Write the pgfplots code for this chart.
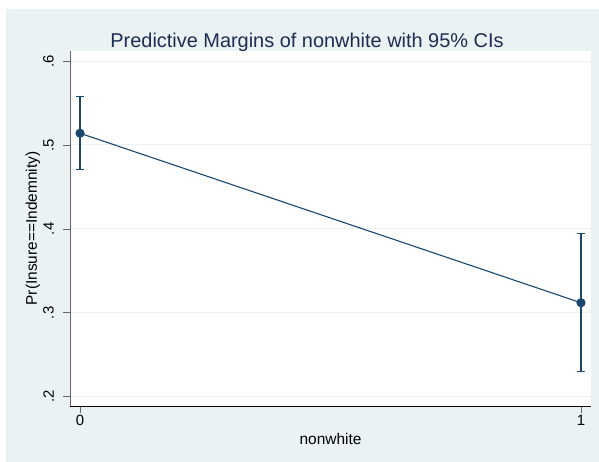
\documentclass[border=0pt]{standalone}
\usepackage{fontspec}
\setmainfont{Liberation Sans}
\usepackage{pgfplots}
\pgfplotsset{compat=1.18}

\definecolor{stbg}{RGB}{234,242,243}
\definecolor{stnavy}{RGB}{26,71,111}
\definecolor{sttitle}{RGB}{30,45,83}

\begin{document}
\begin{tikzpicture}[x=1bp,y=1bp]
% page and outer graph region (Stata s2color look)
\useasboundingbox (-70,-56) rectangle (529,406);
\fill[white] (-70,-56) rectangle (529,406);
\fill[stbg] (-64,-56) rectangle (529,397);
\node[font=\fontsize{20}{24}\selectfont, text=sttitle, anchor=base] at (237,358)
  {Predictive Margins of nonwhite with 95\% CIs};

\begin{axis}[
    at={(0,0)}, anchor=south west,
    scale only axis,
    width=521bp, height=355bp,
    xmin=-0.02, xmax=1.02,
    ymin=0.189, ymax=0.612,
    axis background/.style={fill=white},
    axis x line*=bottom,
    axis y line*=left,
    x axis line style={black, line width=0.8bp, -},
    y axis line style={black!60, line width=0.8bp, -},
    tick align=outside,
    major tick length=7bp,
    tick style={black!60, line width=0.8bp},
    xtick={0,1}, xticklabels={0,1},
    ytick={0.2,0.3,0.4,0.5,0.6},
    yticklabels={.2,.3,.4,.5,.6},
    /pgf/number format/assume math mode=true,
    ticklabel style={font=\fontsize{15}{18}\selectfont},
    yticklabel style={rotate=90, anchor=south, inner sep=2bp, yshift=7bp},
    xticklabel style={inner sep=2bp},
    ymajorgrids,
    major grid style={stbg, line width=1bp},
    label style={font=\fontsize{15.5}{18}\selectfont},
    xlabel={nonwhite},
    ylabel={Pr(Insure==Indemnity)},
    xlabel style={at={(axis description cs:0.5,0)}, anchor=base, yshift=-39bp},
    ylabel style={at={(axis description cs:0,0.5)}, anchor=center, yshift=37bp},
    clip=false,
]
\addplot[stnavy, line width=1.1bp, mark=*, mark size=4bp,
    mark options={solid, fill=stnavy},
    error bars/.cd, y dir=both, y explicit,
    error bar style={line width=1.1bp, stnavy},
    error mark options={line width=1.1bp, mark size=4bp, rotate=90}]
  coordinates {
    (0,0.514) += (0,0.044) -= (0,0.043)
    (1,0.312) += (0,0.082) -= (0,0.082)
  };
\end{axis}
\end{tikzpicture}
\end{document}
